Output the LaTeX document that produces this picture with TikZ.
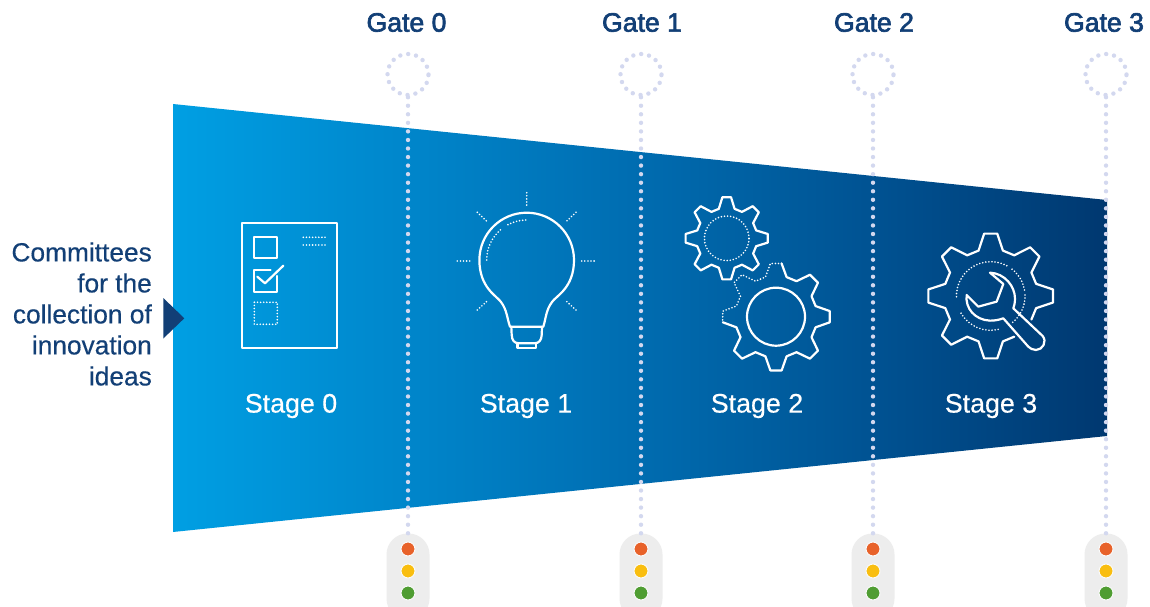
\documentclass[tikz,border=0pt]{standalone}
\usepackage{fontspec}
\setmainfont{Liberation Sans}
\newfontfamily\medf[FakeBold=2.4]{Liberation Sans}
\newfontfamily\regf[FakeBold=0.4]{Liberation Sans}
\definecolor{navy}{HTML}{123F76}
\definecolor{dotc}{HTML}{D3D8EF}
\definecolor{pill}{HTML}{EDEDED}
\definecolor{gA}{HTML}{009FE3}
\definecolor{gB}{HTML}{0086CB}
\definecolor{gC}{HTML}{006CB0}
\definecolor{gD}{HTML}{005292}
\definecolor{gE}{HTML}{003870}
\pgfdeclarehorizontalshading{funnel}{100bp}{color(0bp)=(gA); color(25bp)=(gA); color(37.5bp)=(gB); color(50bp)=(gC); color(62.5bp)=(gD); color(75bp)=(gE); color(100bp)=(gE)}
\tikzset{
  gatetxt/.style={font=\medf\fontsize{26.6}{26.6}\selectfont, text=navy, inner sep=0pt, anchor=center},
  stagetxt/.style={font=\regf\fontsize{26.8}{26.8}\selectfont, text=white, inner sep=0pt, anchor=center},
  sidetxt/.style={font=\regf\fontsize{26.3}{31}\selectfont, text=navy, inner sep=0pt, align=right, anchor=east},
  gatering/.style={circle, minimum size=41pt, inner sep=0pt, draw=dotc, line width=4.4pt, line cap=round, dash pattern=on 0pt off 8pt},
  gateline/.style={draw=dotc, line width=4.4pt, line cap=round, dash pattern=on 0pt off 8.55pt},
  lightpill/.style={rectangle, fill=pill, rounded corners=21pt, minimum width=43pt, minimum height=86pt, inner sep=0pt},
  lamp/.style={circle, minimum size=14pt, inner sep=0pt, draw=white!70!pill, line width=1pt},
  icon/.style={draw=white, line width=2.2pt, line join=round, line cap=round},
  fine/.style={draw=white, line width=1.8pt, line cap=round, dash pattern=on 0pt off 3.1pt},
}
% one tooth, counter-clockwise: #1 angle, #2 outer radius, #3 root radius
\newcommand{\tooth}[3]{-- ({#1-15}:#3) -- ({#1-6}:#2) -- ({#1+6}:#2) -- ({#1+15}:#3)}
\begin{document}
\begin{tikzpicture}[x=1pt,y=-1pt]
\useasboundingbox (0,0) rectangle (1150,607);
\fill[white] (0,0) rectangle (1150,607);
% funnel
\path[shading=funnel] (173,104) -- (1107,200) -- (1107,436) -- (173,532) -- cycle;
% side arrow
\fill[navy] (163.3,298) -- (184.3,318.3) -- (163.3,338.5) -- cycle;
% side text
\node[sidetxt] (side) at (152,314) {Committees\\for the\\collection of\\innovation\\ideas};
% gates
\foreach \n/\x/\tx/\lab in {0/408/406.5/Gate 0,1/641/642/Gate 1,2/873/874/Gate 2,3/1106/1104/Gate 3}{
  \node[gatetxt] (t\n) at (\tx,22.5) {\lab};
  \node[gatering] (g\n) at (\x,74.5) {};
  \node[lightpill] (p\n) at (\x,576.5) {};
  \draw[gateline] (g\n.south) -- (p\n.north);
  \node[lamp,fill={rgb,255:red,232;green,98;blue,42}] (r\n) at (\x,549) {};
  \node[lamp,fill={rgb,255:red,249;green,190;blue,16}] (y\n) at (\x,571) {};
  \node[lamp,fill={rgb,255:red,79;green,157;blue,50}] (v\n) at (\x,593) {};
}
% stage labels
\node[stagetxt] (s0) at (291,406) {Stage 0};
\node[stagetxt] (s1) at (526,406) {Stage 1};
\node[stagetxt] (s2) at (757,406) {Stage 2};
\node[stagetxt] (s3) at (991,406) {Stage 3};
% checklist icon
\draw[icon] (241.7,223.3) rectangle (336.7,348.3);
\draw[icon] (254.3,236.7) rectangle (276.7,258.3);
\draw[icon] (270.5,270) -- (254.3,270) -- (254.3,291.7) -- (276.7,291.7) -- (276.7,276);
\draw[icon] (257.3,276.7) -- (265,283.3) -- (283.3,265.7);
\draw[fine] (254.3,302.3) rectangle (277.3,324.3);
\draw[fine] (303.3,237.3) -- (326.7,237.3);
\draw[fine] (303.3,245) -- (326.7,245);
% bulb icon
\draw[icon] (510,326.7) .. controls (507,318) and (507,310) .. (501,302)
  .. controls (497,296) and (479.4,288) .. (479.4,260) arc[start angle=180,end angle=360,radius=47.3]
  .. controls (574,288) and (556,296) .. (552,302)
  .. controls (546,310) and (546,318) .. (543.3,326.7) -- cycle;
\draw[icon] (511.3,326.7) -- (511.7,335) .. controls (512,340) and (514,343.3) .. (519,343.3) -- (534.5,343.3)
  .. controls (539,343.3) and (541.5,340) .. (541.7,335) -- (542,326.7);
\draw[icon] (517.5,343.3) -- (517.5,348.3) -- (536,348.3) -- (536,343.3);
\draw[fine] (486.7,260) arc[start angle=180,end angle=230,radius=40];
\draw[fine] (507.9,224.7) arc[start angle=242,end angle=270,radius=40];
\draw[fine] (526.7,192.7) -- (526.7,206.7);
\draw[fine] (457.3,261) -- (471.7,261);
\draw[fine] (581.7,261) -- (596.7,261);
\draw[fine] (477.3,212.3) -- (488.3,222.7);
\draw[fine] (576,212.3) -- (565,222.7);
\draw[fine] (477.3,310) -- (488.3,300);
\draw[fine] (576,310) -- (565,300);
% gear A
\begin{scope}[shift={(726.7,238.3)},y=1pt]
  \draw[icon] (15:30.5) \foreach \a in {45,90,...,360}{\tooth{\a}{41.3}{30.5}} -- cycle;
  \draw[fine] (0,0) circle[radius=22.3];
\end{scope}
% gear B
\begin{scope}[shift={(776,316.7)},y=1pt]
  \draw[icon] (186:53.5) -- (195:41) \tooth{225}{54}{41} \tooth{270}{54}{41} \tooth{315}{54}{41} \tooth{360}{54}{41} \tooth{405}{54}{41} -- (435:41) -- (444:53.5);
  \draw[fine] (84:53.5) -- (96:53.5) -- (105:41) \tooth{135}{54}{41} -- (165:41) -- (174:53.5) -- (184:53.5);
  \draw[icon] (0,0) circle[radius=29];
\end{scope}
% gear C
\begin{scope}[shift={(990.7,296)},y=1pt]
  \draw[icon] (-30:47) \tooth{0}{62.7}{47} \tooth{45}{62.7}{47} \tooth{90}{62.7}{47} \tooth{135}{62.7}{47} \tooth{180}{62.7}{47} \tooth{225}{62.7}{47} \tooth{270}{62.7}{47} -- (-60:47);
  \draw[fine] (-50:34.3) arc[start angle=-50,end angle=2,radius=34.3];
  \draw[fine] (10:34.3) arc[start angle=10,end angle=52,radius=34.3];
  \draw[fine] (62:34.3) arc[start angle=62,end angle=185,radius=34.3];
  \draw[fine] (210:34.3) arc[start angle=210,end angle=285,radius=34.3];
\end{scope}
% wrench
\begin{scope}[shift={(670,180)},x=0.3333pt,y=-0.3333pt]
  \draw[icon] (960,278) .. controls (1005,280) and (1035,320) .. (1035,355)
    .. controls (1035,368) and (1033,378) .. (1030,385)
    -- (1118,468) .. controls (1132,485) and (1118,510) .. (1098,510)
    .. controls (1088,510) and (1080,505) .. (1075,500)
    -- (1000,415) .. controls (985,420) and (975,422) .. (960,422)
    .. controls (915,420) and (885,385) .. (890,345)
    -- (925,380) -- (980,365) -- (1000,312) -- cycle;
\end{scope}
\end{tikzpicture}
\end{document}
